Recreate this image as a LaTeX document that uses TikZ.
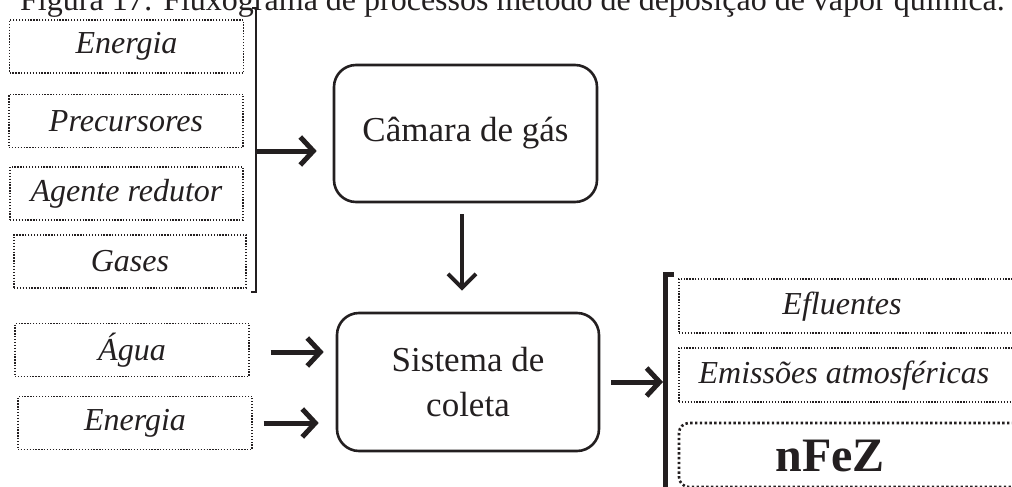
\documentclass[tikz,border=0pt]{standalone}
\usepackage{fontspec}
\setmainfont{Liberation Serif}
\usetikzlibrary{arrows.meta}
\definecolor{ink}{HTML}{231F20}
\tikzset{
  inbox/.style={draw=ink, line width=1.3pt, dash pattern=on 1.3pt off 1.6pt,
    minimum height=53pt, inner sep=0pt, text=ink,
    font=\fontsize{32}{36}\selectfont\itshape},
  mainbox/.style={draw=ink, line width=2.6pt, rounded corners=22pt,
    inner sep=0pt, text=ink, align=center,
    font=\fontsize{35}{45}\selectfont},
  lbl/.style={text=ink, inner sep=0pt, font=\fontsize{32}{36}\selectfont\itshape},
  arr/.style={draw=ink, line width=5pt,
    -{Straight Barb[length=13pt,width=28pt,line width=5pt]}},
  arrthin/.style={draw=ink, line width=3.5pt,
    -{Straight Barb[length=14pt,width=28pt,line width=4pt]}},
  brk/.style={draw=ink, line width=2.6pt},
  brkthick/.style={draw=ink, line width=5pt},
}
\begin{document}
\begin{tikzpicture}[x=1pt,y=-1pt]
\useasboundingbox (0,0) rectangle (1012,487);
\clip (0,0) rectangle (1012,487);
% caption (cut off at the top)
\node[anchor=base west, inner sep=0pt, text=ink, font=\fontsize{32}{36}\selectfont] (cap) at (20,11)
  {Figura 17: Fluxograma de processos método de deposição de vapor química.};
% left inputs
\node[inbox, minimum width=234pt] (en1) at (126.5,46.5) {Energia};
\node[inbox, minimum width=234pt] (pre) at (126,121) {Precursores};
\node[inbox, minimum width=233pt] (age) at (126.5,193.5) {Agente redutor};
\node[inbox, minimum width=232pt] (gas) at (130,261.5) {Gases};
\node[inbox, minimum width=234pt] (agua) at (132,350) {Água};
\node[inbox, minimum width=234pt] (en2) at (135,423) {Energia};
% main boxes
\node[mainbox, minimum width=263pt, minimum height=137pt] (cam) at (465.5,133.5) {Câmara de gás};
\node[mainbox, minimum width=262pt, minimum height=138pt] (sis) at (468,382) {Sistema de\\coleta};
% left bracket
\coordinate (lbt) at (256,8);
\coordinate (lbb) at (256,292);
\coordinate (lbm) at (256,151);
\draw[brk] ([xshift=-4pt]lbt) -- (lbt) -- (lbb) -- ([xshift=-5pt]lbb);
\draw[arr, shorten >=16pt] (lbm) -- (lbm -| cam.west);
% down arrow
\draw[arrthin, shorten <=11pt, shorten >=21pt] ([xshift=-3.5pt]cam.south) -- ([xshift=-6pt]sis.north);
% inputs to collection system
\draw[arr, shorten <=21pt, shorten >=12pt] ([yshift=-2pt]agua.east) -- ([yshift=-2pt]agua.east -| sis.west);
\draw[arr, shorten <=11pt, shorten >=17pt] (en2.east) -- (en2.east -| sis.west);
% right bracket
\coordinate (rbt) at (665,274);
\coordinate (rbb) at (665,500);
\draw[brkthick] ([xshift=9pt]rbt) -- (rbt) -- (rbb);
\draw[arr, shorten <=11pt, shorten >=2pt] (sis.east) -- (sis.east -| rbt);
% outputs (cut off at the right edge)
\node[inbox, minimum width=350pt, minimum height=54pt] (efl) at (854,306) {};
\node[inbox, minimum width=350pt, minimum height=54pt] (emi) at (854,375) {};
\node[draw=ink, line width=2.6pt, dash pattern=on 2.4pt off 2.4pt, rounded corners=10pt,
      minimum width=350pt, minimum height=64pt, inner sep=0pt] (nfe) at (854,455) {};
\node[lbl] (eflt) at (842,307) {Efluentes};
\node[lbl] (emit) at (844,376) {Emissões atmosféricas};
\node[text=ink, inner sep=0pt, font=\fontsize{48}{50}\selectfont\bfseries] (nfet) at (830,456) {nFeZ};
\end{tikzpicture}
\end{document}
